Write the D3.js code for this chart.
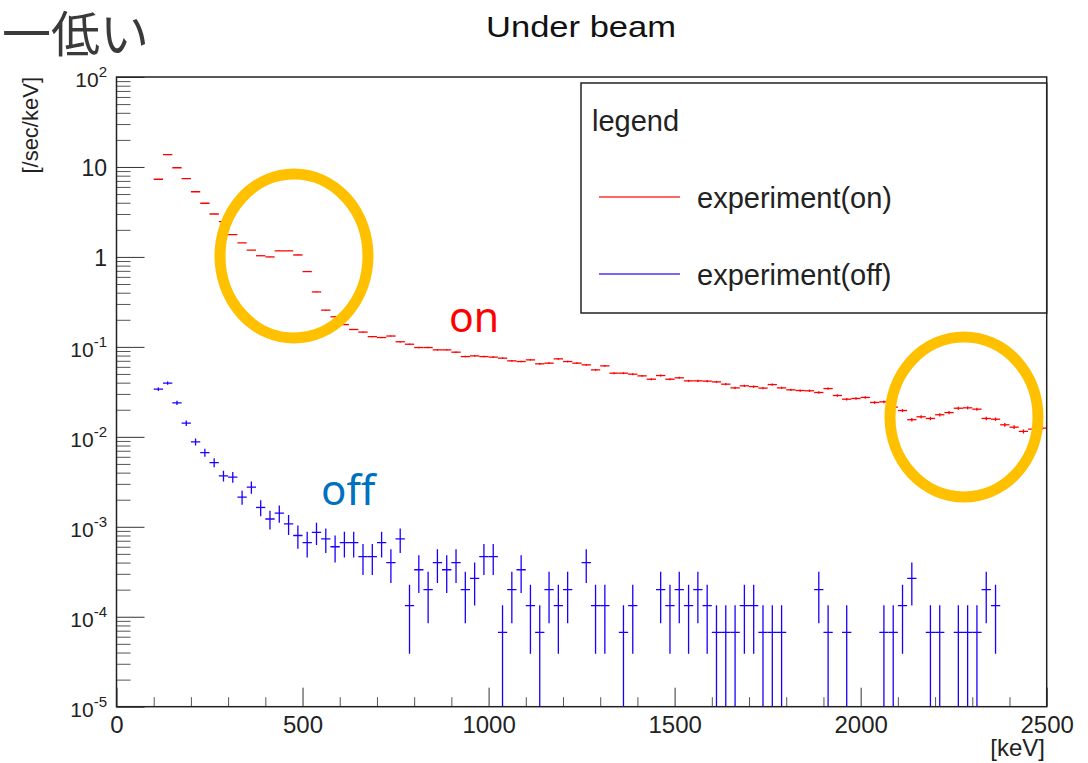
<!DOCTYPE html>
<html>
<head>
<meta charset="utf-8">
<script src="https://cdn.jsdelivr.net/npm/d3@7"></script>
<style>
  body { margin: 0; background: #fff; }
  svg { display: block; font-family: "Liberation Sans", Arial, Helvetica, sans-serif; }
</style>
</head>
<body>
<svg id="chart" width="1088" height="763"></svg>
<script>
// energy bins, lower edge in keV, 25 keV wide
const binWidth = 25;
const binLow = d3.range(100, 2500, binWidth);

// count rate [/sec/keV] with beam on
const onRate = [
  7.3, 13.7, 9.8, 7.4, 5.3, 3.95, 3.0, 2.47, 1.77, 1.43,
  1.19, 1.03, 1.0, 1.17, 1.17, 1.05, 0.687, 0.408, 0.256, 0.216,
  0.177, 0.156, 0.146, 0.130, 0.127, 0.132, 0.114, 0.107, 0.0983, 0.0983,
  0.0926, 0.0926, 0.0873, 0.0780, 0.0794, 0.0780, 0.0769, 0.0749, 0.0699, 0.0687,
  0.0717, 0.0648, 0.0659, 0.0736, 0.0687, 0.0659, 0.0631, 0.0555, 0.0615, 0.0510,
  0.0510, 0.0497, 0.0476, 0.0437, 0.0480, 0.0437, 0.0453, 0.0419, 0.0419, 0.0416,
  0.0408, 0.0385, 0.0350, 0.0369, 0.0362, 0.0348, 0.0381, 0.0350, 0.0333, 0.0327,
  0.0325, 0.0311, 0.0344, 0.0288, 0.0262, 0.0267, 0.0274, 0.0241, 0.0245, 0.0214,
  0.0196, 0.0155, 0.0167, 0.0160, 0.0176, 0.0186, 0.0208, 0.0210, 0.0203, 0.0160,
  0.0157, 0.0136, 0.0128, 0.0115, 0.0122, 0.0125
];

// count rate [/sec/keV] with beam off (0 = empty bin)
const offRate = [
  0.0339, 0.0395, 0.0239, 0.0142, 0.0088, 0.00669, 0.00518, 0.00369, 0.00357, 0.00214,
  0.00276, 0.00164, 0.00122, 0.00142, 0.00108, 8.0e-4, 6.67e-4, 8.67e-4, 7.33e-4, 6.0e-4,
  6.67e-4, 6.67e-4, 4.67e-4, 4.67e-4, 6.67e-4, 4.0e-4, 7.33e-4, 1.33e-4, 3.33e-4, 2.0e-4,
  4.0e-4, 3.33e-4, 4.0e-4, 2.0e-4, 2.67e-4, 4.67e-4, 4.67e-4, 6.7e-5, 2.0e-4, 3.33e-4,
  1.33e-4, 6.7e-5, 2.0e-4, 1.33e-4, 2.0e-4, 0, 4.0e-4, 1.33e-4, 1.33e-4, 0,
  6.7e-5, 1.33e-4, 0, 0, 2.0e-4, 1.33e-4, 2.0e-4, 1.33e-4, 2.0e-4, 1.33e-4,
  6.7e-5, 6.7e-5, 6.7e-5, 1.33e-4, 1.33e-4, 6.7e-5, 6.7e-5, 6.7e-5, 0, 0,
  0, 2.0e-4, 6.7e-5, 0, 6.7e-5, 0, 0, 0, 6.7e-5, 6.7e-5,
  1.33e-4, 2.67e-4, 0, 6.7e-5, 6.7e-5, 0, 6.7e-5, 6.7e-5, 6.7e-5, 2.0e-4,
  1.33e-4, 0, 0, 0, 0, 0
];

// rate of a single count in a bin, for the Poisson error bars
const onUnit = 3e-5;
const offUnit = 6.67e-5;

const xTicks = [0, 500, 1000, 1500, 2000, 2500];
const yMajor = [1e2, 1e1, 1, 1e-1, 1e-2, 1e-3, 1e-4, 1e-5];
const yBase = ["10", "10", "1", "10", "10", "10", "10", "10"];
const yExp = ["2", "", "", "-1", "-2", "-3", "-4", "-5"];

const legendItems = ["experiment(on)", "experiment(off)"];

// frame of the pad
var frame = {left: 116.5, right: 1046.7, top: 77, bottom: 706.7};

var svg = d3.select("#chart");

var x = d3.scaleLinear().domain([0, 2500]).range([frame.left, frame.right]);
var y = d3.scaleLog().domain([1e-5, 1e2]).range([frame.bottom, frame.top]);

svg.append("defs").append("clipPath").attr("id", "clip")
  .append("rect")
    .attr("x", frame.left).attr("y", frame.top)
    .attr("width", frame.right - frame.left)
    .attr("height", frame.bottom - frame.top);

// minor log ticks 2..9 in each decade
var yMinor = [];
for (var p = -5; p < 2; p++) {
  for (var m = 2; m < 10; m++) yMinor.push(m * Math.pow(10, p));
}

// y ticks pointing into the frame
svg.append("g")
    .attr("transform", "translate(" + frame.left + ",0)")
    .call(d3.axisLeft(y).tickValues(yMinor).tickSize(-14).tickSizeOuter(0).tickFormat(""))
    .call(g => g.select(".domain").remove())
    .selectAll("line").attr("stroke", "#555");
svg.append("g")
    .attr("transform", "translate(" + frame.left + ",0)")
    .call(d3.axisLeft(y).tickValues(yMajor).tickSize(-28).tickSizeOuter(0).tickFormat(""))
    .call(g => g.select(".domain").remove())
    .selectAll("line").attr("stroke", "#333");

// y labels, 10 with exponent
var yLab = svg.append("g").attr("fill", "#222").attr("text-anchor", "end");
yMajor.forEach(function(v, i) {
  var t = yLab.append("text")
      .attr("x", 107)
      .attr("y", y(v) + (yExp[i] ? 10 : 9));
  if (yExp[i]) {
    t.append("tspan").attr("font-size", 21).text(yBase[i]);
    t.append("tspan").attr("font-size", 15).attr("dy", -10).text(yExp[i]);
  } else {
    t.attr("font-size", 23).text(yBase[i]);
  }
});

// x axis
var xMinor = d3.range(0, 2501, 100).filter(d => d % 500 != 0);
svg.append("g")
    .attr("transform", "translate(0," + frame.bottom + ")")
    .call(d3.axisBottom(x).tickValues(xMinor).tickSize(-9.5).tickSizeOuter(0).tickFormat(""))
    .call(g => g.select(".domain").remove())
    .selectAll("line").attr("stroke", "#555");
svg.append("g")
    .attr("transform", "translate(0," + frame.bottom + ")")
    .call(d3.axisBottom(x).tickValues(xTicks).tickSize(-19).tickSizeOuter(0).tickPadding(9).tickFormat(d => d))
    .call(g => g.select(".domain").remove())
    .call(g => g.selectAll("line").attr("stroke", "#333"))
    .call(g => g.selectAll("text")
        .attr("font-size", 24)
        .attr("fill", "#222")
        .attr("font-family", "Liberation Sans, Arial, sans-serif"));

// histograms drawn as error bars
function drawHist(vals, unit, color) {
  var bins = binLow.map((lo, i) => ({lo: lo, v: vals[i], e: Math.sqrt(vals[i] * unit)}))
      .filter(d => d.v > 0);
  var g = svg.append("g")
      .attr("clip-path", "url(#clip)")
      .attr("stroke", color)
      .attr("stroke-width", 1.3);
  g.selectAll(".h").data(bins).enter().append("line")
      .attr("class", "h")
      .attr("x1", d => x(d.lo)).attr("x2", d => x(d.lo + binWidth))
      .attr("y1", d => y(d.v)).attr("y2", d => y(d.v));
  g.selectAll(".v").data(bins).enter().append("line")
      .attr("class", "v")
      .attr("x1", d => x(d.lo + binWidth / 2)).attr("x2", d => x(d.lo + binWidth / 2))
      .attr("y1", d => y(Math.max(d.v - d.e, 1e-6)))
      .attr("y2", d => y(d.v + d.e));
}
drawHist(offRate, offUnit, "#1a00ff");
drawHist(onRate, onUnit, "#ff0000");

// frame box
svg.append("rect")
    .attr("x", frame.left).attr("y", frame.top)
    .attr("width", frame.right - frame.left)
    .attr("height", frame.bottom - frame.top)
    .attr("fill", "none")
    .attr("stroke", "#222")
    .attr("stroke-width", 1.5);

// titles
svg.append("text")
    .attr("x", 581).attr("y", 37)
    .attr("text-anchor", "middle")
    .attr("font-size", 30)
    .attr("textLength", 190)
    .attr("lengthAdjust", "spacingAndGlyphs")
    .attr("fill", "#111")
    .text("Under beam");

svg.append("text")
    .attr("transform", "translate(38,77) rotate(-90)")
    .attr("text-anchor", "end")
    .attr("font-size", 22)
    .attr("fill", "#222")
    .text("[/sec/keV]");

svg.append("text")
    .attr("x", 1045).attr("y", 756)
    .attr("text-anchor", "end")
    .attr("font-size", 24)
    .attr("fill", "#222")
    .text("[keV]");

// legend
var leg = svg.append("g");
leg.append("rect")
    .attr("x", 581).attr("y", 83)
    .attr("width", frame.right - 581).attr("height", 230)
    .attr("fill", "#fff")
    .attr("stroke", "#222")
    .attr("stroke-width", 1.5);
leg.append("text")
    .attr("x", 592).attr("y", 131)
    .attr("font-size", 29)
    .attr("fill", "#222")
    .text("legend");
var legColors = ["#ff0000", "#1a00ff"];
legendItems.forEach(function(name, i) {
  var ly = 197 + i * 77;
  leg.append("line")
      .attr("x1", 599).attr("x2", 680)
      .attr("y1", ly).attr("y2", ly)
      .attr("stroke", legColors[i])
      .attr("stroke-opacity", 0.6)
      .attr("stroke-width", 2);
  leg.append("text")
      .attr("x", 697).attr("y", ly + 11)
      .attr("font-size", 29)
      .attr("fill", "#222")
      .text(name);
});

// slide annotations on top of the plot
svg.append("ellipse")
    .attr("cx", 294).attr("cy", 256)
    .attr("rx", 74).attr("ry", 82)
    .attr("fill", "none")
    .attr("stroke", "#ffc000")
    .attr("stroke-width", 11);
svg.append("ellipse")
    .attr("cx", 964).attr("cy", 417)
    .attr("rx", 74).attr("ry", 80)
    .attr("fill", "none")
    .attr("stroke", "#ffc000")
    .attr("stroke-width", 11);

svg.append("text")
    .attr("x", 449).attr("y", 332)
    .attr("font-family", "Noto Sans, sans-serif")
    .attr("font-size", 41)
    .attr("fill", "#ff0000")
    .text("on");
svg.append("text")
    .attr("x", 321).attr("y", 505)
    .attr("font-family", "Noto Sans, sans-serif")
    .attr("font-size", 42)
    .attr("fill", "#0070c0")
    .text("off");

svg.append("text")
    .attr("x", 2).attr("y", 52)
    .attr("font-family", "Noto Sans CJK JP, sans-serif")
    .attr("font-size", 49)
    .attr("fill", "#3a3a3a")
    .text("一低い");
</script>
</body>
</html>
